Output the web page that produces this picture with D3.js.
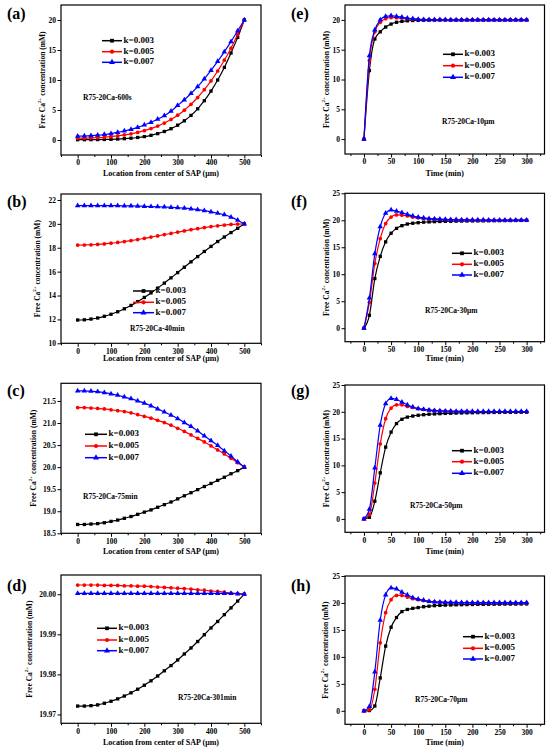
<!DOCTYPE html>
<html><head><meta charset="utf-8">
<script src="https://cdn.jsdelivr.net/npm/d3@7"></script>
<style>
body{margin:0;background:#fff}
svg{display:block}
text{font-family:"Liberation Serif","Times New Roman",serif;font-weight:bold;fill:#000}
</style>
</head><body>
<svg id="chart" width="550" height="752"></svg>
<script>
// ---------- data ----------
const locX = [0,20,40,60,80,100,120,140,160,180,200,220,240,260,280,300,320,340,360,380,400,420,440,460,480,500];
const timeX = [0,10,20,30,40,50,60,70,80,90,100,110,120,130,140,150,160,170,180,190,200,210,220,230,240,250,260,270,280,290,300];
const seriesNames = ["k=0.003","k=0.005","k=0.007"];

// (a) R75-20Ca-600s
const a003 = [0.05,0.05,0.06,0.07,0.09,0.12,0.16,0.22,0.30,0.42,0.57,0.78,1.06,1.42,1.88,2.47,3.20,4.10,5.20,6.55,8.15,10.0,12.1,14.5,17.1,20.0];
const a005 = [0.30,0.31,0.34,0.39,0.46,0.56,0.68,0.84,1.03,1.27,1.55,1.90,2.32,2.82,3.42,4.13,4.97,5.95,7.08,8.38,9.85,11.5,13.3,15.3,17.6,20.0];
const a007 = [0.65,0.67,0.72,0.80,0.92,1.07,1.26,1.50,1.78,2.11,2.50,2.95,3.47,4.06,4.80,5.75,6.70,7.75,8.90,10.2,11.6,13.1,14.7,16.4,18.2,20.0];
// (b) R75-20Ca-40min
const b003 = [11.95,11.97,12.03,12.12,12.26,12.43,12.64,12.89,13.17,13.49,13.84,14.22,14.62,15.04,15.48,15.92,16.37,16.82,17.26,17.69,18.11,18.52,18.90,19.27,19.63,20.0];
const b005 = [18.22,18.23,18.25,18.28,18.32,18.38,18.44,18.52,18.60,18.69,18.79,18.89,18.99,19.10,19.20,19.31,19.41,19.51,19.60,19.69,19.77,19.84,19.90,19.95,19.98,20.0];
const b007 = [21.53,21.53,21.53,21.53,21.53,21.52,21.52,21.51,21.50,21.49,21.47,21.45,21.43,21.41,21.38,21.35,21.31,21.26,21.19,21.11,21.01,20.89,20.76,20.56,20.30,20.0];
// (c) R75-20Ca-75min
const c003 = [18.70,18.70,18.71,18.72,18.74,18.77,18.80,18.84,18.88,18.93,18.98,19.03,19.09,19.15,19.21,19.28,19.35,19.42,19.49,19.56,19.63,19.70,19.77,19.85,19.92,20.0];
const c005 = [21.35,21.35,21.34,21.33,21.32,21.30,21.28,21.26,21.23,21.19,21.15,21.11,21.06,21.01,20.95,20.88,20.81,20.73,20.65,20.57,20.48,20.39,20.30,20.20,20.10,20.0];
const c007 = [21.73,21.73,21.72,21.71,21.69,21.66,21.63,21.59,21.55,21.50,21.45,21.39,21.32,21.25,21.18,21.10,21.01,20.92,20.82,20.71,20.60,20.49,20.37,20.25,20.12,20.0];
// (d) R75-20Ca-301min
const d003 = [19.9721,19.9721,19.9722,19.9724,19.9728,19.9733,19.9739,19.9746,19.9754,19.9763,19.9773,19.9784,19.9796,19.9809,19.9822,19.9836,19.9851,19.9866,19.9882,19.9899,19.9916,19.9932,19.9949,19.9966,19.9983,20.0000];
const d005 = [20.0023,20.0023,20.0023,20.0023,20.0022,20.0022,20.0022,20.0021,20.0021,20.0020,20.0020,20.0019,20.0018,20.0017,20.0016,20.0015,20.0014,20.0013,20.0011,20.0010,20.0008,20.0007,20.0005,20.0003,20.0002,20.0000];
const d007 = [20.0002,20.0002,20.0002,20.0002,20.0002,20.0002,20.0002,20.0002,20.0002,20.0002,20.0002,20.0002,20.0002,20.0002,20.0002,20.0002,20.0002,20.0002,20.0002,20.0002,20.0002,20.0002,20.0002,20.0002,20.0001,20.0000];
// (e) R75-20Ca-10μm
const e003 = [0,11.5,16.8,18.0,18.8,19.3,19.6,19.75,19.85,19.9,19.93,19.95,19.96,19.97,19.97,19.98,19.98,19.98,19.99,19.99,19.99,19.99,19.99,20,20,20,20,20,20,20,20];
const e005 = [0,13.2,18.0,19.6,20.2,20.4,20.35,20.3,20.2,20.15,20.1,20.08,20.05,20.04,20.03,20.02,20.02,20.01,20.01,20.01,20,20,20,20,20,20,20,20,20,20,20];
const e007 = [0,14.0,18.3,20.0,20.6,20.7,20.6,20.45,20.3,20.2,20.1,20.05,20.04,20.03,20.02,20.02,20.01,20.01,20.01,20,20,20,20,20,20,20,20,20,20,20,20];
// (f) R75-20Ca-30μm
const f003 = [0,2.4,9.2,13.3,16.0,17.6,18.5,19.0,19.3,19.45,19.55,19.65,19.7,19.75,19.78,19.8,19.82,19.84,19.86,19.87,19.88,19.89,19.9,19.91,19.92,19.93,19.94,19.95,19.96,19.97,19.98];
const f005 = [0,4.8,12.0,16.6,19.4,20.6,21.0,20.95,20.8,20.6,20.45,20.35,20.25,20.2,20.15,20.12,20.1,20.08,20.07,20.06,20.05,20.05,20.04,20.04,20.04,20.03,20.03,20.03,20.03,20.03,20.03];
const f007 = [0,5.6,13.8,18.8,21.3,21.9,21.7,21.4,21.1,20.8,20.6,20.45,20.3,20.25,20.2,20.15,20.12,20.1,20.08,20.07,20.06,20.05,20.05,20.04,20.04,20.04,20.04,20.04,20.04,20.04,20.04];
// (g) R75-20Ca-50μm
const g003 = [0,0.3,3.3,8.6,13.4,16.2,17.8,18.6,19.0,19.2,19.35,19.45,19.55,19.6,19.65,19.7,19.73,19.76,19.78,19.8,19.82,19.84,19.85,19.86,19.87,19.88,19.89,19.9,19.9,19.91,19.92];
const g005 = [0,0.8,6.7,14.0,18.7,20.7,21.3,21.3,21.0,20.8,20.6,20.45,20.35,20.25,20.2,20.15,20.12,20.1,20.08,20.07,20.06,20.05,20.05,20.05,20.04,20.04,20.04,20.04,20.04,20.04,20.04];
const g007 = [0,1.8,9.5,17.5,21.5,22.5,22.3,21.8,21.3,20.9,20.6,20.45,20.3,20.2,20.15,20.12,20.1,20.08,20.07,20.06,20.05,20.05,20.05,20.05,20.05,20.05,20.05,20.05,20.05,20.05,20.05];
// (h) R75-20Ca-70μm
const h003 = [0,0.05,0.9,6.1,12.0,15.5,17.3,18.4,18.8,19.0,19.15,19.3,19.4,19.5,19.55,19.6,19.63,19.66,19.68,19.7,19.72,19.74,19.75,19.76,19.77,19.78,19.79,19.8,19.8,19.81,19.82];
const h005 = [0,0.2,4.0,12.6,18.2,20.6,21.4,21.4,21.1,20.8,20.6,20.45,20.3,20.22,20.16,20.12,20.1,20.08,20.07,20.06,20.05,20.05,20.04,20.04,20.04,20.04,20.04,20.04,20.04,20.04,20.04];
const h007 = [0,0.8,7.2,16.8,21.5,22.8,22.6,22.0,21.5,21.0,20.7,20.5,20.3,20.2,20.15,20.12,20.1,20.08,20.07,20.06,20.05,20.05,20.05,20.05,20.05,20.05,20.05,20.05,20.05,20.05,20.05];

// tick labels
const locTicks = [0,100,200,300,400,500];
const timeTicks = [0,50,100,150,200,250,300];
const yTicksA = [0,5,10,15,20];
const yTicksB = [10,12,14,16,18,20,22];
const yTicksC = [18.5,19.0,19.5,20.0,20.5,21.0,21.5];
const yTicksD = [19.97,19.98,19.99,20.00];
const yTicksE = [0,5,10,15,20];
const yTicksFGH = [0,5,10,15,20,25];

// ---------- layout ----------
const colors = ["#000000","#ff0000","#0000ff"];
const symbols = [d3.symbolSquare, d3.symbolCircle, d3.symbolTriangle];
const symSizes = [11, 11, 13];
const L = {left:61, right:261, xDomain:[-50,550], xTicks:locTicks, xStep:50,
  xTitle:"Location from center of SAP (μm)"};
const R = {left:345, right:544.5, xDomain:[-35,333], xTicks:timeTicks, xStep:25,
  xTitle:"Time (min)", ytx:327};

const panels = [
 {...L, tag:"(a)", tagY:15, top:5, bottom:155, yDomain:[-2.5,22.5], yTicks:yTicksA, yFmt:"d", ytx:43,
  xs:locX, data:[a003,a005,a007], leg:{x1:102,x2:122,y:[40.7,51.7,62.3]}, note:{x:83,y:98,t:"R75-20Ca-600s"}, xTitleY:174},
 {...L, tag:"(b)", tagY:203, top:194, bottom:343.3, yDomain:[10,22.5], yTicks:yTicksB, yFmt:"d", ytx:38,
  xs:locX, data:[b003,b005,b007], leg:{x1:133,x2:154,y:[291,302.3,312.7]}, note:{x:130,y:329,t:"R75-20Ca-40min"}, xTitleY:359.5},
 {...L, tag:"(c)", tagY:392, top:383.3, bottom:533.3, yDomain:[18.5,21.9], yTicks:yTicksC, yFmt:".1f", ytx:34,
  xs:locX, data:[c003,c005,c007], leg:{x1:85,x2:107,y:[434.3,446,457.7]}, note:{x:83,y:497.3,t:"R75-20Ca-75min"}, xTitleY:552},
 {...L, tag:"(d)", tagY:587, top:575, bottom:723.3, yDomain:[19.9678,20.0048], yTicks:yTicksD, yFmt:".2f", ytx:29.5,
  xs:locX, data:[d003,d005,d007], leg:{x1:97,x2:117,y:[628.3,640,650.7]}, note:{x:178,y:698.3,t:"R75-20Ca-301min"}, xTitleY:743},
 {...R, tag:"(e)", tagY:15, top:5, bottom:154, yDomain:[-2.5,22.5], yTicks:yTicksE, yFmt:"d",
  xs:timeX, data:[e003,e005,e007], leg:{x1:443,x2:463,y:[54.3,65.7,77.3]}, note:{x:442,y:122,t:"R75-20Ca-10μm"}, xTitleY:174},
 {...R, tag:"(f)", tagY:203, top:193.3, bottom:341.7, yDomain:[-2.5,25], yTicks:yTicksFGH, yFmt:"d",
  xs:timeX, data:[f003,f005,f007], leg:{x1:452,x2:472,y:[253.3,264.3,275]}, note:{x:425,y:311.7,t:"R75-20Ca-30μm"}, xTitleY:359.5},
 {...R, tag:"(g)", tagY:392, top:385, bottom:532.3, yDomain:[-2.5,25], yTicks:yTicksFGH, yFmt:"d",
  xs:timeX, data:[g003,g005,g007], leg:{x1:452,x2:472,y:[450.7,461.7,473.3]}, note:{x:410,y:506.7,t:"R75-20Ca-50μm"}, xTitleY:552},
 {...R, tag:"(h)", tagY:587, top:576, bottom:724.3, yDomain:[-2.5,25], yTicks:yTicksFGH, yFmt:"d", ytx:325.5,
  xs:timeX, data:[h003,h005,h007], leg:{x1:463,x2:483,y:[636.7,648.3,659]}, note:{x:415,y:700.7,t:"R75-20Ca-70μm"}, xTitleY:743},
];

const svg = d3.select("#chart");

function minorValues(domain, step, majors) {
  const out = [];
  const start = Math.ceil(domain[0]/step - 1e-9)*step;
  for (let v = start; v <= domain[1] + 1e-12; v += step) {
    const r = +v.toFixed(6);
    if (!majors.some(m => Math.abs(m - r) < step*1e-3)) out.push(r);
  }
  return out;
}

panels.forEach(p => {
  const g = svg.append("g");
  const x = d3.scaleLinear().domain(p.xDomain).range([p.left, p.right]);
  const y = d3.scaleLinear().domain(p.yDomain).range([p.bottom, p.top]);

  // series
  p.data.forEach((vals, i) => {
    const pts = p.xs.map((xv, j) => [xv, vals[j]]);
    g.append("path").datum(pts)
      .attr("fill","none").attr("stroke",colors[i]).attr("stroke-width",1.2)
      .attr("d", d3.line().x(d=>x(d[0])).y(d=>y(d[1])).curve(d3.curveMonotoneX));
    g.selectAll(null).data(pts).enter().append("path")
      .attr("transform", d=>`translate(${x(d[0])},${y(d[1])})`)
      .attr("d", d3.symbol().type(symbols[i]).size(symSizes[i]))
      .attr("fill", colors[i]);
  });

  // frame
  g.append("rect").attr("x",p.left).attr("y",p.top)
    .attr("width",p.right-p.left).attr("height",p.bottom-p.top)
    .attr("fill","none").attr("stroke","#000").attr("stroke-width",1.2);

  // axes
  const xa = g.append("g").attr("transform",`translate(0,${p.bottom})`)
    .call(d3.axisBottom(x).tickValues(p.xTicks).tickSize(3.5).tickPadding(1.5).tickFormat(d3.format("d")));
  const xm = g.append("g").attr("transform",`translate(0,${p.bottom})`)
    .call(d3.axisBottom(x).tickValues(minorValues(p.xDomain, p.xStep, p.xTicks)).tickSize(2).tickFormat(""));
  const ya = g.append("g").attr("transform",`translate(${p.left},0)`)
    .call(d3.axisLeft(y).tickValues(p.yTicks).tickSize(3.5).tickPadding(1.5).tickFormat(d3.format(p.yFmt)));
  [xa,xm,ya].forEach(a => {
    a.select(".domain").remove();
    a.selectAll("line").attr("stroke","#000").attr("stroke-width",1);
    a.selectAll("text").attr("font-size",7.5).attr("font-family",null).attr("fill","#000");
  });

  // axis titles
  g.append("text").attr("x",(p.left+p.right)/2).attr("y",p.xTitleY)
    .attr("text-anchor","middle").attr("dominant-baseline","middle")
    .attr("font-size",8).text(p.xTitle);
  const yt = g.append("text")
    .attr("transform",`translate(${p.ytx},${(p.top+p.bottom)/2}) rotate(-90)`)
    .attr("text-anchor","middle").attr("dominant-baseline","middle").attr("font-size",7.5);
  yt.append("tspan").text("Free Ca");
  yt.append("tspan").attr("font-size",5).attr("dy",-2.8).text("2+");
  yt.append("tspan").attr("dy",2.8).text(" concentration (mM)");

  // panel tag
  g.append("text").attr("x", p.left - 54).attr("y", p.tagY)
    .attr("dominant-baseline","middle").attr("font-size",16).text(p.tag);

  // legend
  seriesNames.forEach((name, i) => {
    const ly = p.leg.y[i];
    g.append("line").attr("x1",p.leg.x1).attr("x2",p.leg.x2).attr("y1",ly).attr("y2",ly)
      .attr("stroke",colors[i]).attr("stroke-width",1.5);
    g.append("path").attr("transform",`translate(${(p.leg.x1+p.leg.x2)/2},${ly})`)
      .attr("d", d3.symbol().type(symbols[i]).size(symSizes[i]+3)).attr("fill",colors[i]);
    g.append("text").attr("x",p.leg.x2+1.5).attr("y",ly).attr("dominant-baseline","middle")
      .attr("font-size",9).text(name);
  });

  // annotation
  g.append("text").attr("x",p.note.x).attr("y",p.note.y).attr("dominant-baseline","middle")
    .attr("font-size",7.5).text(p.note.t);
});
</script>
</body></html>
